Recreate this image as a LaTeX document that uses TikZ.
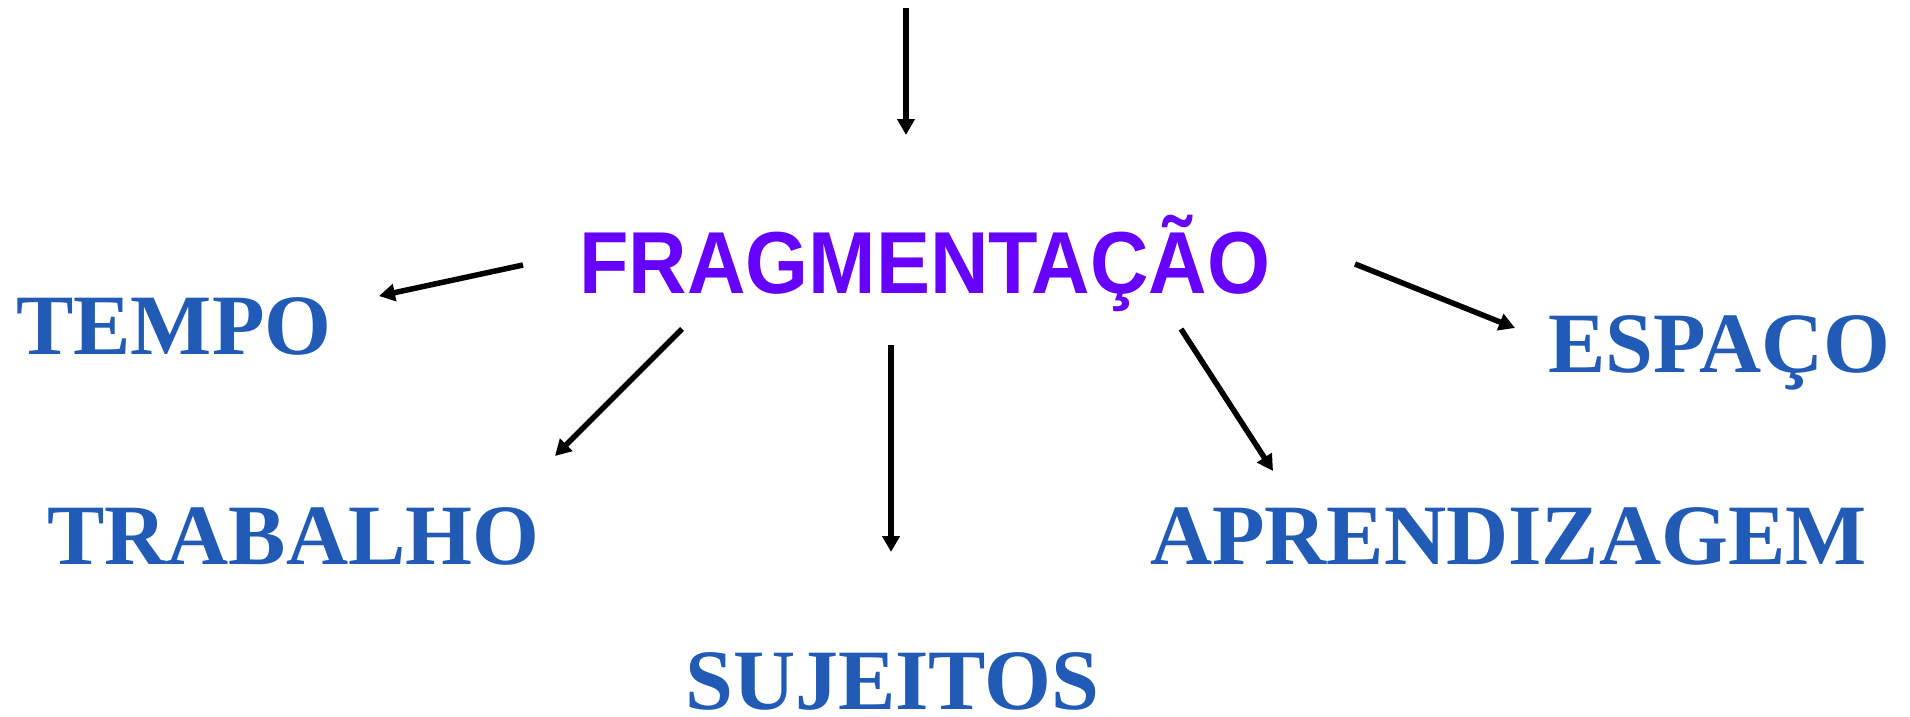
\documentclass[tikz,border=0pt]{standalone}
\usepackage{fontspec}
\setmainfont{Liberation Serif}
\newfontfamily\fragfont[FakeStretch=0.92]{Liberation Sans}
\usetikzlibrary{arrows.meta}
\definecolor{wordblue}{HTML}{215BB5}
\definecolor{fragpurple}{HTML}{6600FF}
\tikzset{
  word/.style={inner sep=0pt, anchor=base west, text=wordblue, font=\fontsize{86}{90}\selectfont\bfseries},
  frag/.style={inner sep=0pt, anchor=base west, text=fragpurple, font=\fragfont\fontsize{88}{92}\selectfont\bfseries},
  arr/.style={line width=5.5pt, -{Triangle[length=16pt,width=17pt]}}
}
\begin{document}
\begin{tikzpicture}[x=1pt,y=-1pt]
\useasboundingbox (0,0) rectangle (1910,716);
\node[frag] (frag) at (579,293) {FRAGMENTAÇÃO};
\node[word] (tempo) at (16,354) {TEMPO};
\node[word] (espaco) at (1548,372) {ESPAÇO};
\node[word] (trabalho) at (47,564) {TRABALHO};
\node[word] (aprend) at (1150,564) {APRENDIZAGEM};
\node[word] (sujeitos) at (685,709) {SUJEITOS};
% arrow end points
\coordinate (top) at (906,8);
\coordinate (topE) at (906,135);
\coordinate (tS) at (523,265);
\coordinate (tE) at (379,296);
\coordinate (trS) at (682,329);
\coordinate (trE) at (555,456);
\coordinate (sS) at (891,345);
\coordinate (sE) at (891,552);
\coordinate (aS) at (1181,329);
\coordinate (aE) at (1273,471);
\coordinate (eS) at (1355,264);
\coordinate (eE) at (1515,328);
\draw[arr] (top) -- (topE);
\draw[arr] (tS) -- (tE);
\draw[arr] (trS) -- (trE);
\draw[arr] (sS) -- (sE);
\draw[arr] (aS) -- (aE);
\draw[arr] (eS) -- (eE);
\end{tikzpicture}
\end{document}
